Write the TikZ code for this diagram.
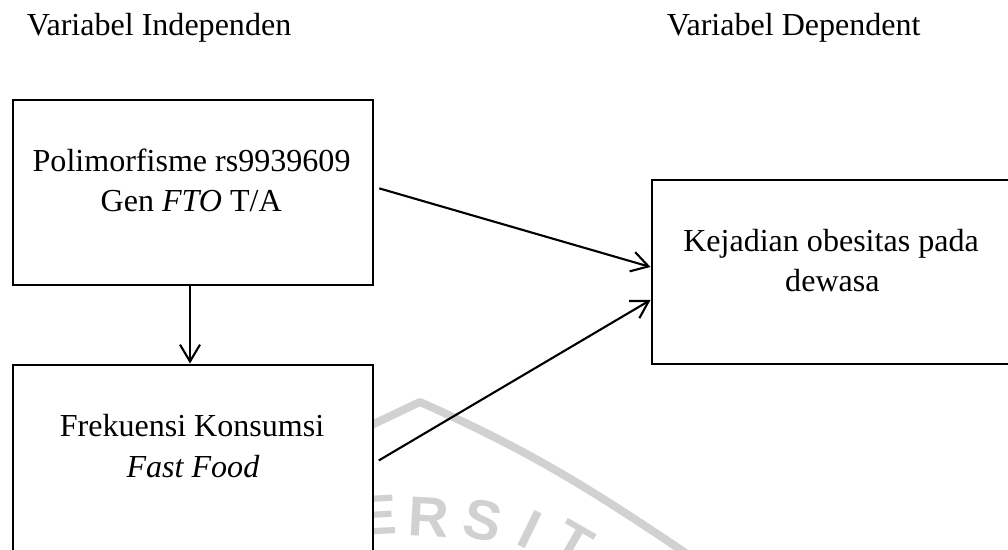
\documentclass[tikz,border=0pt]{standalone}
\usepackage{fontspec}
\setmainfont{Liberation Serif}
\newfontfamily\wmfont{Liberation Sans}
\usetikzlibrary{arrows.meta}

\begin{document}
\begin{tikzpicture}[
	kotak/.style={draw, line width=2.1pt, fill=white, minimum width=9cm, inner sep=0pt},
	teks/.style={anchor=base, font=\fontsize{22.8}{28}\selectfont},
	panah/.style={line width=1.5pt, -{Straight Barb[length=4.2mm,width=5mm]}},
	wm/.style={text=black!18, font=\wmfont\bfseries\fontsize{40}{40}\selectfont}
	]
	\useasboundingbox (0,0) rectangle (25.2,13.75);
	\clip (0,0) rectangle (25.2,13.75);
	
	% watermark
	\draw[black!18, line width=0.2cm, line join=round] (8.5,2.75) -- (10.5,3.7) to[out=-24,in=146] (17.4,-0.25);
	\node[wm, rotate=3]   (wE) at (9.45,0.875)   {E};
	\node[wm, rotate=-3]  (wR) at (10.725,0.825) {R};
	\node[wm, rotate=-12] (wS) at (12.075,0.75)  {S};
	\node[wm, rotate=-26] (wI) at (13.25,0.5)    {I};
	\node[wm, rotate=-30] (wT) at (14.325,0.175) {T};
	
	% kotak
	\node[kotak, minimum height=4.625cm] (gen)  at (4.825,8.9375) {};	%gen FTO
	\node[kotak, minimum height=6cm]     (ff)   at (4.825,1.625)  {};	%fast food
	\node[kotak, minimum height=4.6cm]   (obes) at (20.8,6.95)    {};	%obesitas
	
	% judul
	\node[teks, anchor=base west] (judul1) at (0.55,12.85)  {Variabel Independen};
	\node[teks, anchor=base west] (judul2) at (16.55,12.85) {Variabel Dependent};
	
	% isi
	\node[teks] (gen1) at (4.79,9.45)   {Polimorfisme rs9939609};
	\node[teks] (gen2) at (4.78,8.45)   {Gen \textit{FTO} T/A};
	\node[teks] (ff1)  at (4.8,2.825)   {Frekuensi Konsumsi};
	\node[teks] (ff2)  at (4.825,1.8)   {\textit{Fast Food}};
	\node[teks] (ob1)  at (20.775,7.45) {Kejadian obesitas pada};
	\node[teks] (ob2)  at (20.81,6.45)  {dewasa};
	
	% panah
	\draw[panah, shorten <=1.25mm] ([yshift=1.375mm]gen.east) -- ([yshift=1.25mm]obes.west);	%gen--obesitas
	\draw[panah, shorten <=1.25mm] ([yshift=5.5mm]ff.east) -- ([yshift=-7mm]obes.west);		%ff--obesitas
	\draw[panah] ([xshift=-0.75mm]gen.south) -- ([xshift=-0.75mm]ff.north);					%gen--ff
\end{tikzpicture}
\end{document}
